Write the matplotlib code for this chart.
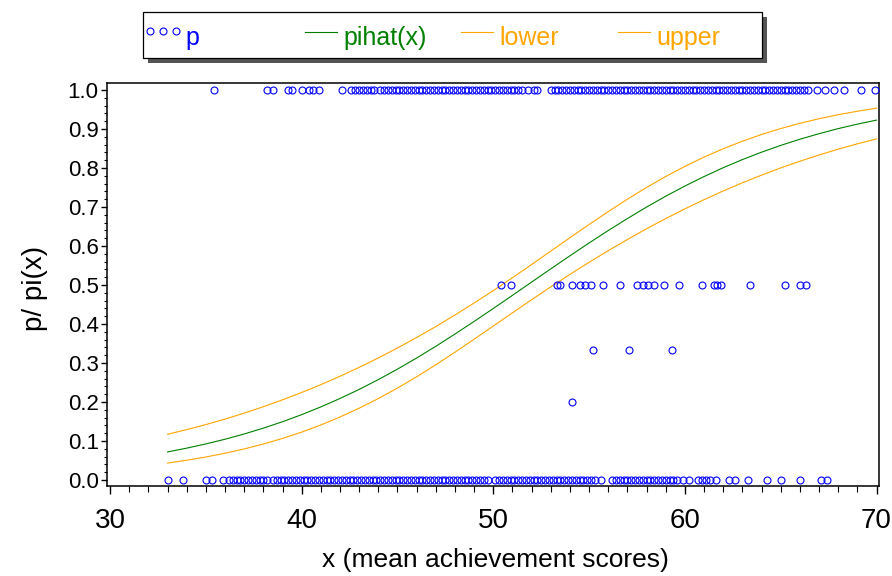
import matplotlib
matplotlib.use('Agg')
import matplotlib.pyplot as plt
from matplotlib.lines import Line2D
from matplotlib.patches import Rectangle
from matplotlib.ticker import MultipleLocator

# ---------------- data ----------------
x_p1 = [35.4, 38.2, 38.5, 39.3, 39.5, 40.0, 40.4, 40.6, 40.9, 42.1,
        42.6, 42.8, 43.0, 43.2, 43.4, 43.6, 43.8, 44.1, 44.3, 44.5, 44.7, 44.9,
        45.1, 45.3, 45.5, 45.7, 45.9, 46.1, 46.3, 46.5, 46.7, 46.9, 47.1, 47.3,
        47.5, 47.7, 47.9, 48.1, 48.3, 48.5, 48.7, 48.9, 49.1, 49.3, 49.5, 49.7,
        49.9, 50.1, 50.3, 50.5, 50.7, 50.9, 51.1, 51.3, 51.5, 51.8, 52.1, 52.3,
        53.0, 53.2, 53.4, 53.6, 53.8, 54.0, 54.2, 54.4, 54.6, 54.8, 55.0, 55.2,
        55.4, 55.6, 55.8, 56.0, 56.2, 56.4, 56.6, 56.8, 57.0, 57.2, 57.4, 57.6,
        57.8, 58.0, 58.2, 58.4, 58.6, 58.8, 59.0, 59.2, 59.4, 59.6, 59.8, 60.0,
        60.2, 60.4, 60.6, 60.8, 61.0, 61.2, 61.4, 61.6, 61.8, 62.0, 62.2, 62.4,
        62.6, 62.8, 63.0, 63.2, 63.4, 63.6, 63.8, 64.0, 64.2, 64.4, 64.6, 64.8,
        65.0, 65.2, 65.4, 65.6, 65.8, 66.0, 66.2, 66.4,
        66.9, 67.3, 67.8, 68.3, 69.2, 69.9]

x_p0 = [33.0, 33.8, 35.0, 35.3, 35.9, 36.2, 36.4, 36.6, 36.8, 37.0, 37.2, 37.4,
        37.6, 37.8, 38.0, 38.2, 38.5, 38.7, 38.9, 39.1, 39.3, 39.5, 39.7, 39.9,
        40.1, 40.3, 40.5, 40.7, 40.9, 41.1, 41.3, 41.5, 41.7, 41.9, 42.1, 42.3,
        42.5, 42.7, 42.9, 43.1, 43.3, 43.5, 43.7, 43.9, 44.1, 44.3, 44.5, 44.7,
        44.9, 45.1, 45.3, 45.5, 45.7, 45.9, 46.1, 46.3, 46.5, 46.7, 46.9, 47.1,
        47.3, 47.5, 47.7, 47.9, 48.1, 48.3, 48.5, 48.7, 48.9, 49.1, 49.3, 49.5,
        49.7, 50.1, 50.3, 50.5, 50.7, 50.9, 51.1, 51.3, 51.5, 51.7, 51.9, 52.1,
        52.3, 52.5, 52.7, 52.9, 53.1, 53.3, 53.5, 53.7, 53.9, 54.1, 54.3, 54.5,
        54.7, 54.9, 55.1, 55.3, 55.6, 56.2, 56.4, 56.6, 56.8, 57.0, 57.2, 57.4,
        57.6, 57.8, 58.0, 58.2, 58.4, 58.6, 58.8, 59.0, 59.2, 59.4, 59.6,
        59.9, 60.2, 60.7, 60.9, 61.1, 61.3, 61.6, 62.3, 62.6, 63.3, 64.3, 65.0,
        66.0, 67.1, 67.4]

x_p05 = [50.4, 50.9, 53.3, 53.5, 54.1, 54.5, 54.8, 55.1, 55.7, 56.6, 57.5, 57.8,
         58.1, 58.4, 58.9, 59.7, 60.9, 61.5, 61.7, 61.9, 63.4, 65.2, 66.0, 66.3]
x_p033 = [55.2, 57.1, 59.35]
x_p02 = [54.1]

curve_x = [33, 34, 35, 36, 37, 38, 39, 40, 41, 42, 43, 44, 45, 46, 47, 48, 49,
           50, 51, 52, 53, 54, 55, 56, 57, 58, 59, 60, 61, 62, 63, 64, 65, 66,
           67, 68, 69, 70]
pihat = [0.0720, 0.0817, 0.0925, 0.1045, 0.1180, 0.1330, 0.1494, 0.1676,
         0.1874, 0.2090, 0.2323, 0.2575, 0.2843, 0.3128, 0.3428, 0.3743,
         0.4066, 0.4398, 0.4735, 0.5075, 0.5414, 0.5749, 0.6078, 0.6397,
         0.6704, 0.6999, 0.7277, 0.7538, 0.7781, 0.8008, 0.8216, 0.8406,
         0.8580, 0.8738, 0.8880, 0.9010, 0.9125, 0.9228]
lower = [0.0434, 0.0506, 0.0590, 0.0686, 0.0796, 0.0923, 0.1066, 0.1228,
         0.1411, 0.1615, 0.1841, 0.2088, 0.2358, 0.2646, 0.2954, 0.3278,
         0.3610, 0.3948, 0.4287, 0.4623, 0.4953, 0.5272, 0.5582, 0.5881,
         0.6166, 0.6443, 0.6704, 0.6953, 0.7189, 0.7412, 0.7621, 0.7817,
         0.8003, 0.8174, 0.8334, 0.8484, 0.8620, 0.8746]
upper = [0.1173, 0.1292, 0.1421, 0.1562, 0.1714, 0.1879, 0.2056, 0.2244,
         0.2445, 0.2660, 0.2888, 0.3130, 0.3385, 0.3654, 0.3934, 0.4231,
         0.4539, 0.4857, 0.5187, 0.5525, 0.5869, 0.6213, 0.6552, 0.6882,
         0.7201, 0.7502, 0.7783, 0.8042, 0.8280, 0.8494, 0.8687, 0.8860,
         0.9012, 0.9146, 0.9264, 0.9367, 0.9456, 0.9534]

x_ticks = [30, 40, 50, 60, 70]
y_ticks = [0.0, 0.1, 0.2, 0.3, 0.4, 0.5, 0.6, 0.7, 0.8, 0.9, 1.0]
legend_labels = ['p', 'pihat(x)', 'lower', 'upper']

# ---------------- styling ----------------
BLUE = '#0000ff'
GREEN = '#008000'
ORANGE = '#ffa500'
REG = ['Liberation Sans', 'DejaVu Sans']

W, H = 892, 576
fig = plt.figure(figsize=(W / 100, H / 100), dpi=100)
fig.patch.set_facecolor('white')
ax = fig.add_axes([107 / W, 1 - 486 / H, 772 / W, 403 / H])

mk = dict(linestyle='none', marker='o', markersize=5, markerfacecolor='none',
          markeredgecolor=BLUE, markeredgewidth=0.8, zorder=3)
ax.plot(x_p1, [1.0] * len(x_p1), **mk)
ax.plot(x_p0, [0.0] * len(x_p0), **mk)
ax.plot(x_p05, [0.5] * len(x_p05), **mk)
ax.plot(x_p033, [1 / 3] * len(x_p033), **mk)
ax.plot(x_p02, [0.2] * len(x_p02), **mk)

ax.plot(curve_x, upper, color=ORANGE, lw=0.8, zorder=2)
ax.plot(curve_x, pihat, color=GREEN, lw=0.8, zorder=2)
ax.plot(curve_x, lower, color=ORANGE, lw=0.8, zorder=2)

ax.set_xlim(29.84, 70.13)
ax.set_ylim(-0.0154, 1.018)
ax.set_xticks(x_ticks)
ax.set_xticklabels([str(v) for v in x_ticks])
ax.set_yticks(y_ticks)
ax.set_yticklabels([f'{v:.1f}' for v in y_ticks])
ax.xaxis.set_minor_locator(MultipleLocator(1))
ax.yaxis.set_minor_locator(MultipleLocator(0.02))
ax.tick_params(axis='x', which='major', direction='out', length=6, width=1, pad=10)
ax.tick_params(axis='x', which='minor', direction='out', length=4, width=0.8)
ax.tick_params(axis='y', which='major', direction='out', length=4, width=1, pad=2)
ax.tick_params(axis='y', which='minor', direction='out', length=2, width=0.8)
for lab in ax.get_xticklabels():
    lab.set_family(REG)
    lab.set_fontsize(20)
for lab in ax.get_yticklabels():
    lab.set_family(REG)
    lab.set_fontsize(16)
for s in ax.spines.values():
    s.set_linewidth(1.1)
    s.set_color('black')

fig.text(495 / W, 1 - 560 / H, 'x (mean achievement scores)', family=REG,
         fontsize=19, ha='center', va='center')
fig.text(35 / W, 1 - 288 / H, 'p/ pi(x)', family=REG, fontsize=20,
         rotation=90, ha='center', va='center')

# ---------------- legend box ----------------
def fx(px):
    return px / W

def fy(py):
    return 1 - py / H

fig.add_artist(Rectangle((fx(148), fy(63)), fx(762) - fx(143), fy(12) - fy(58),
                         transform=fig.transFigure, facecolor='#555555',
                         edgecolor='none'))
fig.add_artist(Rectangle((fx(143), fy(58)), fx(762) - fx(143), fy(12) - fy(58),
                         transform=fig.transFigure, facecolor='white',
                         edgecolor='black', linewidth=0.9))
fig.add_artist(Line2D([fx(150), fx(163), fx(176)], [fy(31)] * 3,
                      transform=fig.transFigure, **mk))
fig.text(fx(185), fy(45), legend_labels[0], color=BLUE, family=REG,
         fontsize=18, ha='left', va='baseline')
item_x = [305, 461, 618]
for i, (lx, col) in enumerate(zip(item_x, [GREEN, ORANGE, ORANGE])):
    fig.add_artist(Line2D([fx(lx), fx(lx + 32)], [fy(32), fy(32)],
                          transform=fig.transFigure, color=col, lw=0.8))
    fig.text(fx(lx + 38), fy(45), legend_labels[i + 1], color=col, family=REG,
             fontsize=18, ha='left', va='baseline')

fig.savefig('out.png', dpi=100, facecolor='white')
